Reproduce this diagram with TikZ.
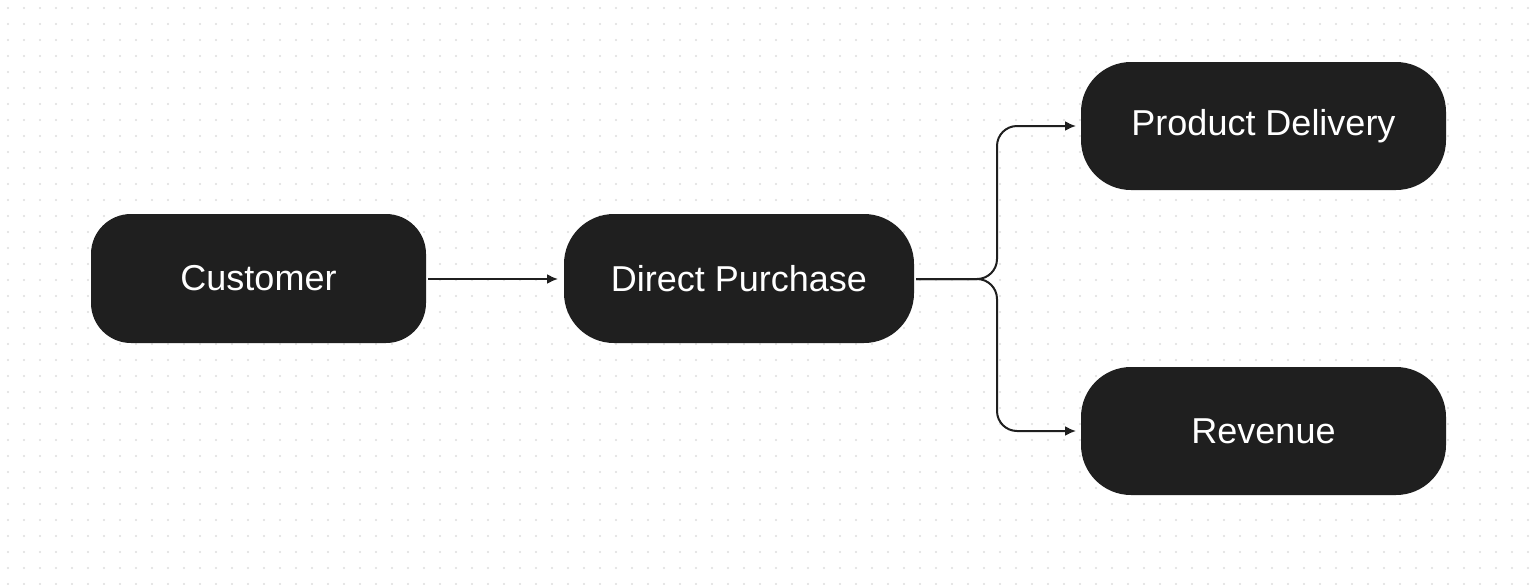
\documentclass[tikz,border=0pt]{standalone}
\usepackage{fontspec}
\setmainfont{Liberation Sans}
\usetikzlibrary{arrows.meta}
\definecolor{boxc}{HTML}{1F1F1F}
\definecolor{dotc}{HTML}{DDDDDD}
\begin{document}
\begin{tikzpicture}[x=1pt,y=-1pt,
  box/.style={fill=boxc,text=white,font=\fontsize{36}{40}\selectfont,inner sep=0pt},
  conn/.style={draw=boxc,line width=2pt,-{Latex[length=11pt,width=10pt]}}]
\useasboundingbox (0,0) rectangle (1536,584);
\fill[white] (0,0) rectangle (1536,584);
\foreach \i in {0,...,95}{\foreach \j in {0,...,36}{\fill[dotc] (8+\i*16,8+\j*16) circle (1.1);}}
\fill[boxc,rounded corners=40pt] (91,214) rectangle (426,343);
\node[box] (cu) at (258.5,278.5) {Customer};
\fill[boxc,rounded corners=50pt] (564,214) rectangle (914,343);
\node[box] (dp) at (739,278.5) {Direct Purchase};
\fill[boxc,rounded corners=50pt] (1081,62) rectangle (1446,190);
\node[box] (pd) at (1263.5,126) {Product Delivery};
\fill[boxc,rounded corners=50pt] (1081,367) rectangle (1446,495);
\node[box] (rv) at (1263.5,431) {Revenue};
\coordinate (cuE) at (428,279);
\coordinate (dpW) at (558,279);
\coordinate (dpE) at (916,279);
\coordinate (pdW) at (1076,126);
\coordinate (rvW) at (1076,431);
\draw[conn] (cuE) -- (dpW);
\draw[conn,rounded corners=20pt] (dpE) -- (997,279) -- (997,126) -- (pdW);
\draw[conn,rounded corners=20pt] (dpE) -- (997,279) -- (997,431) -- (rvW);
\end{tikzpicture}
\end{document}
